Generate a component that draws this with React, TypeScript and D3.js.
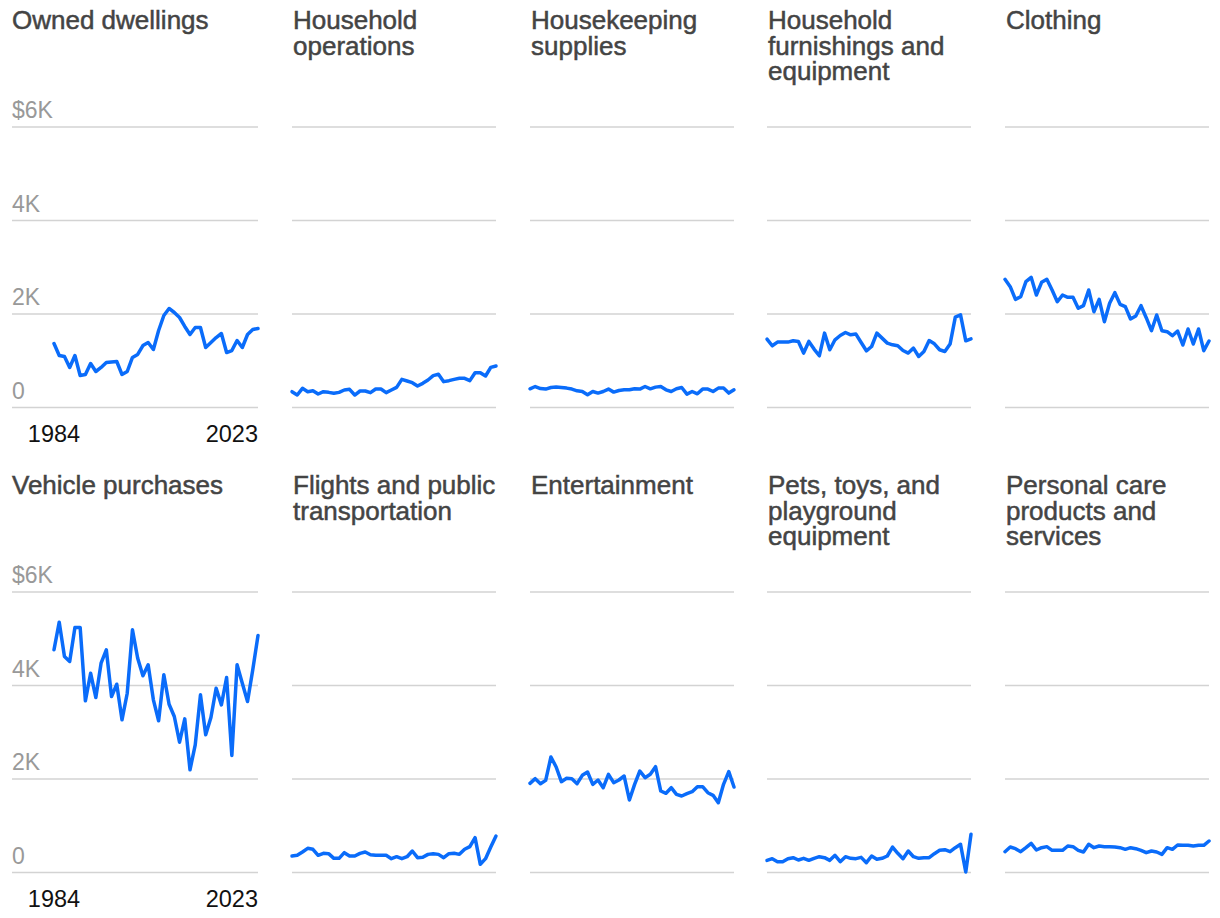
import React from 'react';
import * as d3 from 'd3';

const years = [
  1984, 1985, 1986, 1987, 1988, 1989, 1990, 1991, 1992, 1993,
  1994, 1995, 1996, 1997, 1998, 1999, 2000, 2001, 2002, 2003,
  2004, 2005, 2006, 2007, 2008, 2009, 2010, 2011, 2012, 2013,
  2014, 2015, 2016, 2017, 2018, 2019, 2020, 2021, 2022, 2023,
];

const yTicks = [0, 2000, 4000, 6000];
const yTickLabels = ['0', '2K', '4K', '$6K'];

const ownedDwellings = [1369, 1112, 1090, 856, 1112, 684, 706, 941, 770, 856, 963, 975, 984, 706, 770, 1070, 1134, 1326, 1390, 1241, 1647, 1968, 2118, 2032, 1925, 1733, 1561, 1711, 1711, 1283, 1390, 1497, 1583, 1176, 1219, 1433, 1283, 1561, 1668, 1690];
const householdOps = [338, 267, 410, 338, 360, 289, 338, 324, 303, 324, 374, 388, 267, 353, 353, 317, 395, 395, 317, 374, 431, 602, 567, 531, 460, 517, 588, 681, 710, 553, 574, 602, 624, 624, 574, 745, 745, 674, 859, 888];
const housekeeping = [400, 449, 406, 394, 428, 436, 428, 415, 394, 357, 342, 271, 342, 308, 342, 394, 329, 364, 378, 378, 400, 394, 449, 400, 436, 449, 378, 342, 400, 428, 287, 342, 293, 394, 394, 342, 415, 415, 308, 378];
const furnishings = [1463, 1320, 1399, 1399, 1399, 1427, 1413, 1164, 1413, 1249, 1106, 1591, 1235, 1448, 1540, 1604, 1555, 1570, 1391, 1213, 1305, 1591, 1484, 1377, 1341, 1320, 1220, 1164, 1270, 1091, 1198, 1434, 1363, 1235, 1198, 1356, 1934, 1983, 1427, 1470];
const clothing = [2742, 2584, 2314, 2370, 2691, 2785, 2406, 2678, 2742, 2513, 2263, 2406, 2357, 2357, 2122, 2178, 2513, 2049, 2314, 1835, 2228, 2456, 2207, 2157, 1893, 1957, 2178, 1921, 1643, 1979, 1643, 1622, 1536, 1636, 1337, 1679, 1358, 1679, 1215, 1422];
const vehicles = [4764, 5354, 4620, 4513, 5241, 5241, 3672, 4263, 3743, 4477, 4764, 3765, 4028, 3266, 3835, 5191, 4584, 4207, 4443, 3694, 3245, 4229, 3600, 3337, 2787, 3287, 2197, 2731, 3800, 2945, 3316, 3943, 3586, 4171, 2503, 4443, 4050, 3658, 4335, 5070];
const flights = [353, 367, 438, 517, 496, 367, 410, 403, 303, 303, 424, 353, 353, 410, 438, 381, 367, 367, 367, 296, 338, 296, 338, 460, 317, 324, 388, 403, 388, 317, 403, 410, 388, 496, 553, 745, 175, 296, 545, 781];
const entertainment = [1907, 2007, 1900, 1971, 2471, 2257, 1943, 2014, 2007, 1900, 2079, 2150, 1886, 1979, 1814, 2100, 1921, 1979, 2064, 1551, 1886, 2171, 2028, 2100, 2263, 1743, 1694, 1814, 1672, 1636, 1686, 1728, 1835, 1835, 1707, 1651, 1493, 1886, 2157, 1829];
const pets = [260, 296, 232, 232, 296, 317, 267, 303, 260, 303, 338, 317, 260, 367, 232, 338, 303, 296, 324, 210, 353, 282, 303, 353, 545, 410, 296, 460, 338, 303, 317, 317, 403, 474, 488, 445, 531, 603, 10, 817];
const personalCare = [445, 545, 510, 445, 531, 624, 481, 531, 553, 474, 474, 474, 567, 553, 474, 438, 603, 531, 567, 553, 553, 545, 531, 496, 531, 510, 474, 424, 460, 438, 388, 531, 496, 588, 581, 581, 567, 581, 581, 674];

const panels = [
  { title: ['Owned dwellings'], values: ownedDwellings },
  { title: ['Household', 'operations'], values: householdOps },
  { title: ['Housekeeping', 'supplies'], values: housekeeping },
  { title: ['Household', 'furnishings and', 'equipment'], values: furnishings },
  { title: ['Clothing'], values: clothing },
  { title: ['Vehicle purchases'], values: vehicles },
  { title: ['Flights and public', 'transportation'], values: flights },
  { title: ['Entertainment'], values: entertainment },
  { title: ['Pets, toys, and', 'playground', 'equipment'], values: pets },
  { title: ['Personal care', 'products and', 'services'], values: personalCare },
];

const WIDTH = 1220;
const HEIGHT = 918;
const colX = [54, 292, 530, 767, 1005];
const plotW = 204;
const rowY = [0, 465];
const FONT = '"Liberation Sans", Arial, Helvetica, sans-serif';

const y = d3.scaleLinear().domain([0, 6000]).range([407.5, 127]);

const Panel = ({ title, values, col, row }) => {
  const x0 = colX[col];
  const x = d3.scaleLinear().domain([years[0], years[years.length - 1]]).range([x0, x0 + plotW]);
  const gridLeft = col === 0 ? 12 : x0;
  const line = d3.line<number>()
    .x((_, i) => x(years[i]))
    .y((d) => y(d));

  return (
    <g transform={`translate(0, ${rowY[row]})`}>
      {title.map((t, i) => (
        <text key={i} x={col === 0 ? 12 : x0 + 1} y={29 + i * 25.7} fill="#444" stroke="#444" strokeWidth={0.5}
          fontSize={26} fontFamily={FONT}>{t}</text>
      ))}
      {yTicks.map((t) => (
        <line key={t} x1={gridLeft} x2={x0 + plotW} y1={y(t)} y2={y(t)} stroke="#d3d3d3" strokeWidth={1.6} />
      ))}
      {col === 0 && yTicks.map((t, i) => (
        <text key={t} x={12} y={y(t) - 9} fill="#999" fontSize={23} fontFamily={FONT}>{yTickLabels[i]}</text>
      ))}
      {col === 0 && (
        <g fontSize={23.5} fontFamily={FONT} fill="#111">
          <text x={x(years[0])} y={442} textAnchor="middle">{years[0]}</text>
          <text x={x(years[years.length - 1])} y={442} textAnchor="end">{years[years.length - 1]}</text>
        </g>
      )}
      <path d={line(values) || ''} fill="none" stroke="#0a6cfa" strokeWidth={3.5} strokeLinejoin="round" strokeLinecap="round" />
    </g>
  );
};

export default function App() {
  return (
    <svg width={WIDTH} height={HEIGHT} style={{ position: 'absolute', left: 0, top: 0, background: '#fff' }}>
      {panels.map((p, i) => (
        <Panel key={i} title={p.title} values={p.values} col={i % 5} row={Math.floor(i / 5)} />
      ))}
    </svg>
  );
}
